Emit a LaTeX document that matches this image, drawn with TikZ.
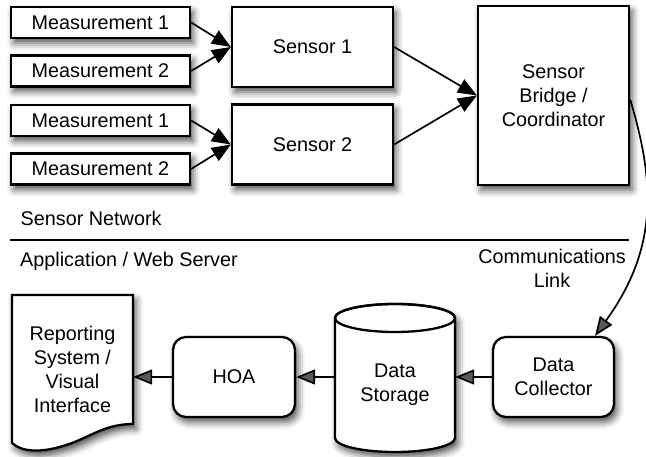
\documentclass[tikz,border=0pt]{standalone}
\usepackage{fontspec}
\setmainfont{Liberation Sans}
\usetikzlibrary{arrows.meta,shadows.blur}
\tikzset{
	softshadow/.style={blur shadow={shadow xshift=3pt, shadow yshift=-5pt, shadow blur radius=7pt, shadow opacity=70}},
	box/.style={draw=black, line width=2.3pt, fill=white, font=\fontsize{19.8}{24}\selectfont, align=center, inner sep=0pt, softshadow},
	roundbox/.style={box, rounded corners=13pt},
	plaintext/.style={font=\fontsize{19.8}{24}\selectfont, align=center, inner sep=0pt},
	link/.style={line width=1.7pt, -{Triangle[length=19pt,width=15pt]}}
}

\begin{document}
\begin{tikzpicture}[x=1pt,y=-1pt]
			%%%%% START %%%%%
			\useasboundingbox (0,0) rectangle (646,457);
			
			\node[box, minimum width=179pt, minimum height=31pt] (meas1a) at (100.5,22.5) {Measurement 1};
			\node[box, minimum width=179pt, minimum height=31pt] (meas2a) at (100.5,71) {Measurement 2};
			\node[box, minimum width=179pt, minimum height=31pt] (meas1b) at (100.5,120.5) {Measurement 1};
			\node[box, minimum width=179pt, minimum height=31pt] (meas2b) at (100.5,169) {Measurement 2};
			
			\node[box, minimum width=161pt, minimum height=80pt] (sensor1) at (312.5,47) {Sensor 1};
			\node[box, minimum width=161pt, minimum height=80pt] (sensor2) at (312.5,144.5) {Sensor 2};
			
			\node[box, minimum width=151pt, minimum height=179pt] (bridge) at (553.5,95.5) {Sensor\\Bridge /\\Coordinator};
			
			\draw[link] (meas1a.east) -- (sensor1.west);
			\draw[link] (meas2a.east) -- (sensor1.west);
			\draw[link] (meas1b.east) -- (sensor2.west);
			\draw[link] (meas2b.east) -- (sensor2.west);
			\draw[link] (sensor1.east) -- (bridge.west);
			\draw[link] (sensor2.east) -- (bridge.west);
			
			\node[plaintext, anchor=base west] (netlabel) at (20.5,226) {Sensor Network};
			\draw[line width=1.6pt] (10,240) -- (629,240);
			\node[plaintext, anchor=base west] (applabel) at (20,267) {Application / Web Server};
			\node[plaintext] (commlabel) at (552,268) {Communications\\Link};
			
			%%%%% APPLICATION %%%%%
			
			\node[roundbox, minimum width=121pt, minimum height=80pt] (collector) at (553.5,377) {Data\\Collector};
			\node[roundbox, minimum width=122pt, minimum height=80pt] (hoa) at (234,377) {HOA};
			
			\draw[line width=2.3pt, fill=white, softshadow] (335,318) -- (335,438)
				arc[start angle=180, end angle=360, x radius=60pt, y radius=14pt] -- (455,318)
				arc[start angle=0, end angle=180, x radius=60pt, y radius=14pt] -- cycle;
			\draw[line width=2.3pt] (395,318) ellipse [x radius=60pt, y radius=14pt];
			\node[plaintext, minimum width=120pt] (storage) at (395,385) {Data\\Storage};
			
			\draw[line width=2.3pt, fill=white, softshadow] (12,295) -- (133,295) -- (133,424)
				.. controls (103,424) and (88,439) .. (63,446)
				.. controls (40,453) and (22,452) .. (12,443) -- cycle;
			\node[plaintext, minimum width=121pt] (report) at (72.5,369) {Reporting\\System /\\Visual\\Interface};
			
			\draw[link] ([yshift=-4pt]bridge.east) .. controls (656,185) and (657,250) .. ([xshift=41.5pt]collector.north);
			\draw[link] (collector.west) -- (collector.west -| storage.east);
			\draw[link] (hoa.east -| storage.west) -- (hoa.east);
			\draw[link] (hoa.west) -- (hoa.west -| report.east);
			
			%%%%% END %%%%%
\end{tikzpicture}
\end{document}
